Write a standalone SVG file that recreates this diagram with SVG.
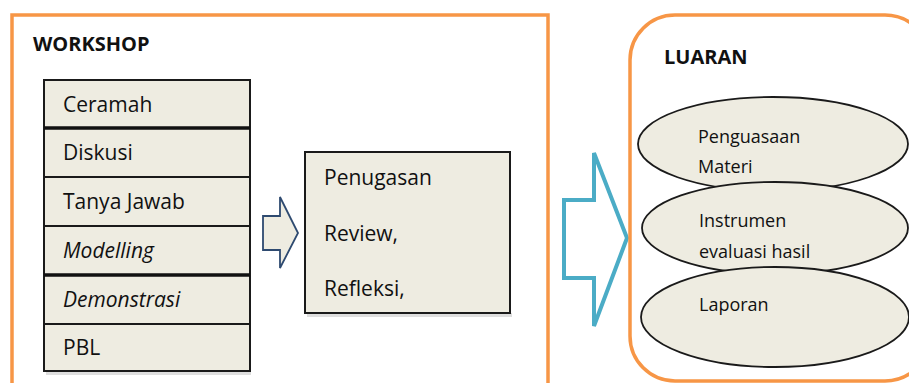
<svg xmlns="http://www.w3.org/2000/svg" width="909" height="383" viewBox="0 0 909 383">
<defs>
<style>
.frame{fill:#fff;stroke:#F79646;stroke-width:3.5}
.cell{fill:#EEECE1;stroke:#1a1a1a;stroke-width:2}
.thick{stroke:#111;stroke-width:3.5}
.shadow{fill:#c8c8c8;opacity:0.6}
.t{font-family:"Open Sans","Liberation Sans",sans-serif;fill:#111}
.big{font-size:21px}
.sm{font-size:18px}
.hd{font-size:20px;font-weight:bold}
.it{font-style:italic}
.ell{fill:#EEECE1;stroke:#1a1a1a;stroke-width:1.8}
</style>
</defs>
<rect width="909" height="383" fill="#fff"/>

<g id="workshop">
<rect class="frame" x="12" y="15" width="536" height="380"/>
<text class="t hd" x="33" y="51">WORKSHOP</text>
</g>

<g id="methods">
<rect class="shadow" x="46" y="372" width="205" height="3"/>
<g id="ceramah"><rect class="cell" x="44" y="80" width="206" height="48"/><text class="t big" x="63" y="112">Ceramah</text></g>
<g id="diskusi"><rect class="cell" x="44" y="128" width="206" height="49"/><text class="t big" x="63" y="160">Diskusi</text></g>
<g id="tanyajawab"><rect class="cell" x="44" y="177" width="206" height="49"/><text class="t big" x="63" y="209">Tanya Jawab</text></g>
<g id="modelling"><rect class="cell" x="44" y="226" width="206" height="49"/><text class="t big it" x="63" y="258">Modelling</text></g>
<g id="demonstrasi"><rect class="cell" x="44" y="275" width="206" height="49"/><text class="t big it" x="63" y="307">Demonstrasi</text></g>
<g id="pbl"><rect class="cell" x="44" y="324" width="206" height="47"/><text class="t big" x="63" y="355">PBL</text></g>
<line class="thick" x1="44" y1="128" x2="250" y2="128"/>
<line class="thick" x1="44" y1="275" x2="250" y2="275"/>
</g>

<g id="tugas">
<rect class="shadow" x="307" y="313" width="205" height="4"/>
<rect class="cell" x="305" y="152" width="205" height="161"/>
<text class="t big" x="324" y="185">Penugasan</text>
<text class="t big" x="324" y="241">Review,</text>
<text class="t big" x="324" y="296">Refleksi,</text>
</g>

<g id="connectors">
<polygon points="263,216 280,216 280,197 298,233 280,268 280,250 263,250" fill="#EEECE1" stroke="#2E4A70" stroke-width="1.8" stroke-linejoin="miter"/>
<polygon points="564,200 594,200 594,153 627,238 594,326 594,278 564,278" fill="#fff" stroke="#4BACC6" stroke-width="4" stroke-linejoin="miter"/>
</g>

<g id="luaran">
<rect class="frame" x="630" y="15" width="300" height="366" rx="45" ry="45"/>
<text class="t hd" x="664" y="64">LUARAN</text>
</g>

<g id="penguasaan">
<ellipse class="ell" cx="773" cy="144" rx="135" ry="47"/>
<text class="t sm" x="698" y="143">Penguasaan</text>
<text class="t sm" x="698" y="173">Materi</text>
</g>
<g id="instrumen">
<ellipse class="ell" cx="775" cy="228" rx="133" ry="46"/>
<text class="t sm" x="699" y="227">Instrumen</text>
<text class="t sm" x="699" y="258">evaluasi hasil</text>
</g>
<g id="laporan">
<ellipse class="ell" cx="775" cy="317" rx="134" ry="50"/>
<text class="t sm" x="699" y="311">Laporan</text>
</g>
</svg>
